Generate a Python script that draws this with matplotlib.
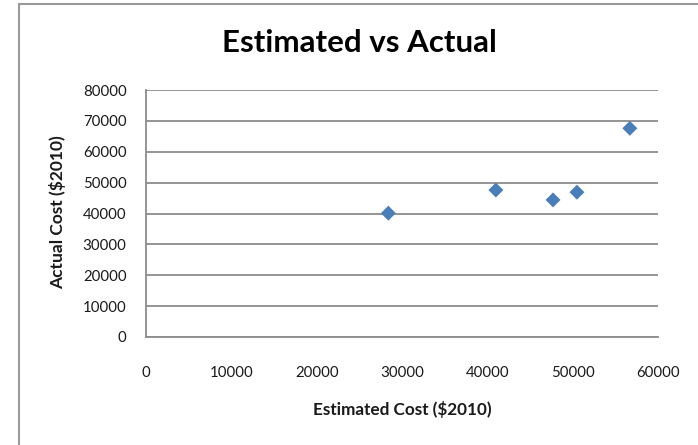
import matplotlib
matplotlib.use("Agg")
import matplotlib.pyplot as plt
from matplotlib.patches import Rectangle

# Project cost data (2010 dollars)
estimated_cost = [28400, 41000, 47700, 50500, 56700]
actual_cost = [40100, 47600, 44400, 46900, 67600]
x_ticks = [0, 10000, 20000, 30000, 40000, 50000, 60000]
y_ticks = [0, 10000, 20000, 30000, 40000, 50000, 60000, 70000, 80000]

plt.rcParams['font.family'] = ['Lato', 'DejaVu Sans']

W, H = 698, 445
fig = plt.figure(figsize=(W / 100, H / 100), dpi=100)
fig.patch.set_facecolor('white')

# outer chart frame
fig.add_artist(Rectangle((19 / W, -0.05), 1.2, 1 - 4 / H + 0.05,
                         transform=fig.transFigure, fill=False,
                         edgecolor='#9a9a9a', linewidth=1.5))

ax = fig.add_axes([146 / W, 1 - 337 / H, (658 - 146) / W, (337 - 90) / H])
ax.scatter(estimated_cost, actual_cost, marker='D', s=58,
           color='#4a7ebb', edgecolors='none', zorder=3)

ax.set_xlim(0, 60000)
ax.set_ylim(0, 80000)
ax.set_xticks(x_ticks)
ax.set_yticks(y_ticks)
ax.set_xticklabels([str(v) for v in x_ticks])
ax.set_yticklabels([str(v) for v in y_ticks])

ax.yaxis.grid(True, color='#8c8c8c', linewidth=1.3)
ax.set_axisbelow(True)
for side in ('top', 'right'):
    ax.spines[side].set_visible(False)
for side in ('left', 'bottom'):
    ax.spines[side].set_color('#8c8c8c')
    ax.spines[side].set_linewidth(1.3)

ax.tick_params(axis='both', length=0, labelsize=10.8, colors='#1a1a1a')
ax.tick_params(axis='y', pad=14)
ax.tick_params(axis='x', pad=21)

fig.text(359 / W, 1 - 43 / H, 'Estimated vs Actual', ha='center', va='center',
         fontsize=22.5, fontweight='bold', color='black')
fig.text(402 / W, 1 - 410 / H, 'Estimated Cost ($2010)', ha='center', va='center',
         fontsize=12.3, fontweight='bold', color='#1a1a1a')
fig.text(58 / W, 1 - 212 / H, 'Actual Cost ($2010)', ha='center', va='center',
         rotation=90, fontsize=12.5, fontweight='bold', color='#1a1a1a')

fig.savefig('out.png', dpi=100, facecolor='white')
